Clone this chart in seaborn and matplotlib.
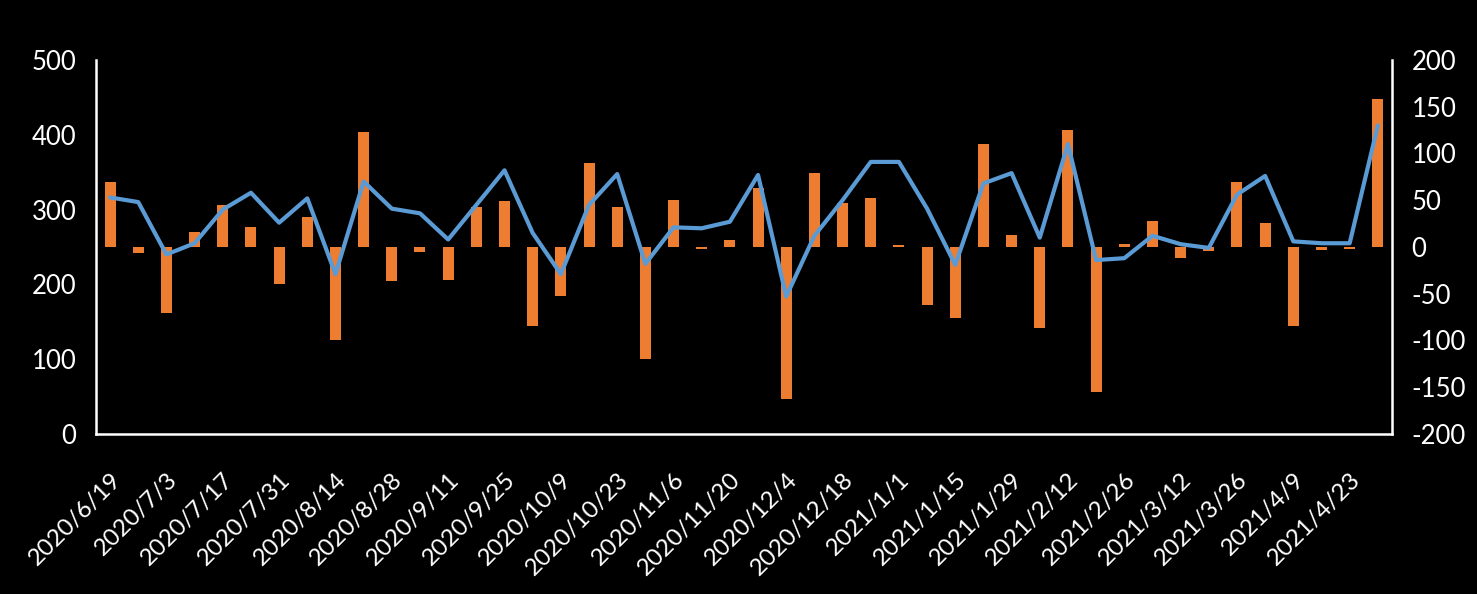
import pandas as pd
import seaborn as sns
import matplotlib.pyplot as plt
import matplotlib.transforms as mtransforms

# weekly dates, 2020/6/19 .. 2021/4/30
week_start = '2020-06-19'
n_weeks = 46

# weekly change (bars, right axis)
bar_values = [70, -6, -71, 16, 45, 21, -40, 32, -100, 123, -36, -5,
              -35, 43, 49, -85, -52, 90, 43, -120, 50, -2, 8, 63,
              -163, 79, 47, 52, 2, -62, -76, 110, 13, -87, 125, -155,
              3, 28, -12, -4, 70, 26, -85, -3, -2, 158]

# line series (right axis units)
line_values = [53, 48, -8, 4, 40, 58, 26, 52, -29, 70, 41, 36,
               8, 45, 82, 15, -29, 45, 78, -18, 21, 20, 27, 77,
               -53, 12, 50, 91, 91, 41, -19, 68, 79, 10, 110, -14,
               -12, 12, 3, -1, 56, 76, 6, 4, 4, 130]

left_ticks = [0, 100, 200, 300, 400, 500]
right_ticks = [-200, -150, -100, -50, 0, 50, 100, 150, 200]


def main():
    dates = pd.date_range(week_start, periods=n_weeks, freq='7D')
    labels = ['{}/{}/{}'.format(d.year, d.month, d.day) for d in dates]
    df = pd.DataFrame({'date': labels, 'change': bar_values,
                       'line': line_values, 'pos': range(n_weeks)})

    sns.set_style('dark')
    plt.rcParams['font.family'] = ['Lato', 'DejaVu Sans']
    plt.rcParams['axes.unicode_minus'] = False

    fig = plt.figure(figsize=(14.77, 5.94), dpi=100, facecolor='black')
    ax = fig.add_axes([0.065, 0.2694, 0.8774, 0.6296])
    ax.set_facecolor('black')
    ax2 = ax.twinx()

    sns.barplot(data=df, x='date', y='change', color='#ED7D31',
                saturation=1, width=0.39, edgecolor='none', linewidth=0,
                ax=ax2)
    sns.lineplot(data=df, x='pos', y='line', color='#5B9BD5',
                 linewidth=3.0, ax=ax2)

    ax2.set_xlim(-0.5, n_weeks - 0.5)
    ax.set_xlim(-0.5, n_weeks - 0.5)
    ax.set_ylim(0, 500)
    ax2.set_ylim(-200, 200)
    ax.set_yticks(left_ticks)
    ax2.set_yticks(right_ticks)
    ax2.set_xticks(range(0, n_weeks, 2))
    ax.set_xticks(range(0, n_weeks, 2))
    ax.set_xticklabels(labels[::2], rotation=45, ha='right',
                       rotation_mode='anchor')
    # nudge the rotated labels a little to the right, like the original
    shift = mtransforms.ScaledTranslation(10 / 100, 0, fig.dpi_scale_trans)
    for lab in ax.get_xticklabels():
        lab.set_transform(lab.get_transform() + shift)
    ax2.set_xlabel('')
    ax2.set_ylabel('')
    ax.set_xlabel('')
    ax.set_ylabel('')
    ax.grid(False)
    ax2.grid(False)

    for a in (ax, ax2):
        for s in a.spines.values():
            s.set_visible(False)
            s.set_color('white')
            s.set_linewidth(1.8)
    ax.spines['left'].set_visible(True)
    ax.spines['bottom'].set_visible(True)
    ax2.spines['right'].set_visible(True)

    ax.tick_params(axis='y', colors='white', labelsize=18.5, length=0, pad=14)
    ax.tick_params(axis='x', colors='white', labelsize=17.5, length=0, pad=25)
    ax2.tick_params(axis='y', colors='white', labelsize=18.5, length=0, pad=14)
    ax2.tick_params(axis='x', length=0, labelbottom=False)

    plt.savefig('out.png', facecolor='black')


if __name__ == '__main__':
    main()
